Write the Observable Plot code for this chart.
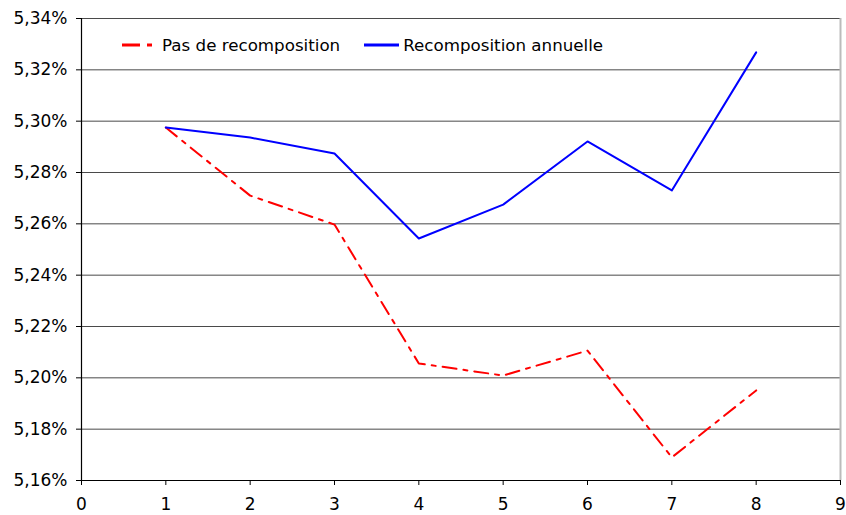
<!DOCTYPE html>
<html><head><meta charset="utf-8">
<script src="https://cdn.jsdelivr.net/npm/d3@7"></script>
<script src="https://cdn.jsdelivr.net/npm/@observablehq/plot@0.6"></script>
<style>
body{margin:0;background:#fff;font-family:"DejaVu Sans",Verdana,sans-serif;}
#wrap{position:relative;width:846px;height:515px;}
#legend{position:absolute;left:122px;top:35px;font-size:16.7px;color:#000;display:flex;align-items:center;white-space:nowrap;}
#legend .item{display:flex;align-items:center;}
#legend svg{margin-right:4px;}
</style></head>
<body><div id="wrap"><div id="legend"></div></div>
<script>
const periods = [1,2,3,4,5,6,7,8];
const pasRecomposition = [5.2975,5.2710,5.2597,5.2056,5.2009,5.2106,5.1690,5.1951];
const recompositionAnnuelle = [5.2975,5.2936,5.2874,5.2543,5.2675,5.2921,5.2730,5.3268];
const seriesNames = ["Pas de recomposition","Recomposition annuelle"];
const seriesColors = ["#ff0000","#0000ff"];
const xTicks = [0,1,2,3,4,5,6,7,8,9];
const yTicks = [5.16,5.18,5.20,5.22,5.24,5.26,5.28,5.30,5.32,5.34];

const red = periods.map((p,i)=>({x:p,y:pasRecomposition[i]}));
const blue = periods.map((p,i)=>({x:p,y:recompositionAnnuelle[i]}));
const fmt = d => d.toFixed(2).replace(".",",")+"%";

const chart = Plot.plot({
  width:846,height:515,
  marginLeft:81,marginRight:6,marginTop:18,marginBottom:35,
  style:{fontFamily:"'DejaVu Sans',Verdana,sans-serif",fontSize:"17px",color:"#000",background:"#fff"},
  x:{domain:[0,9],label:null},
  y:{domain:[5.16,5.34],label:null},
  marks:[
    Plot.ruleY(yTicks.slice(1),{stroke:"#4a4a4a",strokeWidth:1}),
    Plot.ruleX([9],{stroke:"#bbb",strokeWidth:2}),
    Plot.axisX({ticks:xTicks,tickFormat:d=>String(d),tickSize:5,tickPadding:12,stroke:"#000",strokeOpacity:1,label:null,fontSize:17}),
    Plot.axisY({ticks:yTicks,tickFormat:fmt,tickSize:5,tickPadding:9,stroke:"#000",strokeOpacity:1,label:null,fontSize:17}),
    Plot.ruleY([5.16],{stroke:"#000",strokeWidth:1.2}),
    Plot.ruleX([0],{stroke:"#000",strokeWidth:1.2}),
    Plot.line(red,{x:"x",y:"y",stroke:seriesColors[0],strokeWidth:2,strokeDasharray:"14,7,4,7"}),
    Plot.line(blue,{x:"x",y:"y",stroke:seriesColors[1],strokeWidth:2})
  ]
});
document.getElementById("wrap").prepend(chart);

const leg = document.getElementById("legend");
seriesNames.forEach((n,i)=>{
  const it=document.createElement("div");it.className="item";
  it.style.marginRight = i===0 ? "24px" : "0";
  const svg = i===0
    ? `<svg width="36" height="6"><line x1="0" y1="3" x2="18" y2="3" stroke="${seriesColors[i]}" stroke-width="3"/><line x1="25" y1="3" x2="30" y2="3" stroke="${seriesColors[i]}" stroke-width="3"/></svg>`
    : `<svg width="35" height="6"><line x1="0" y1="3" x2="35" y2="3" stroke="${seriesColors[i]}" stroke-width="3"/></svg>`;
  it.innerHTML = svg + `<span>${n}</span>`;
  leg.appendChild(it);
});
</script></body></html>
